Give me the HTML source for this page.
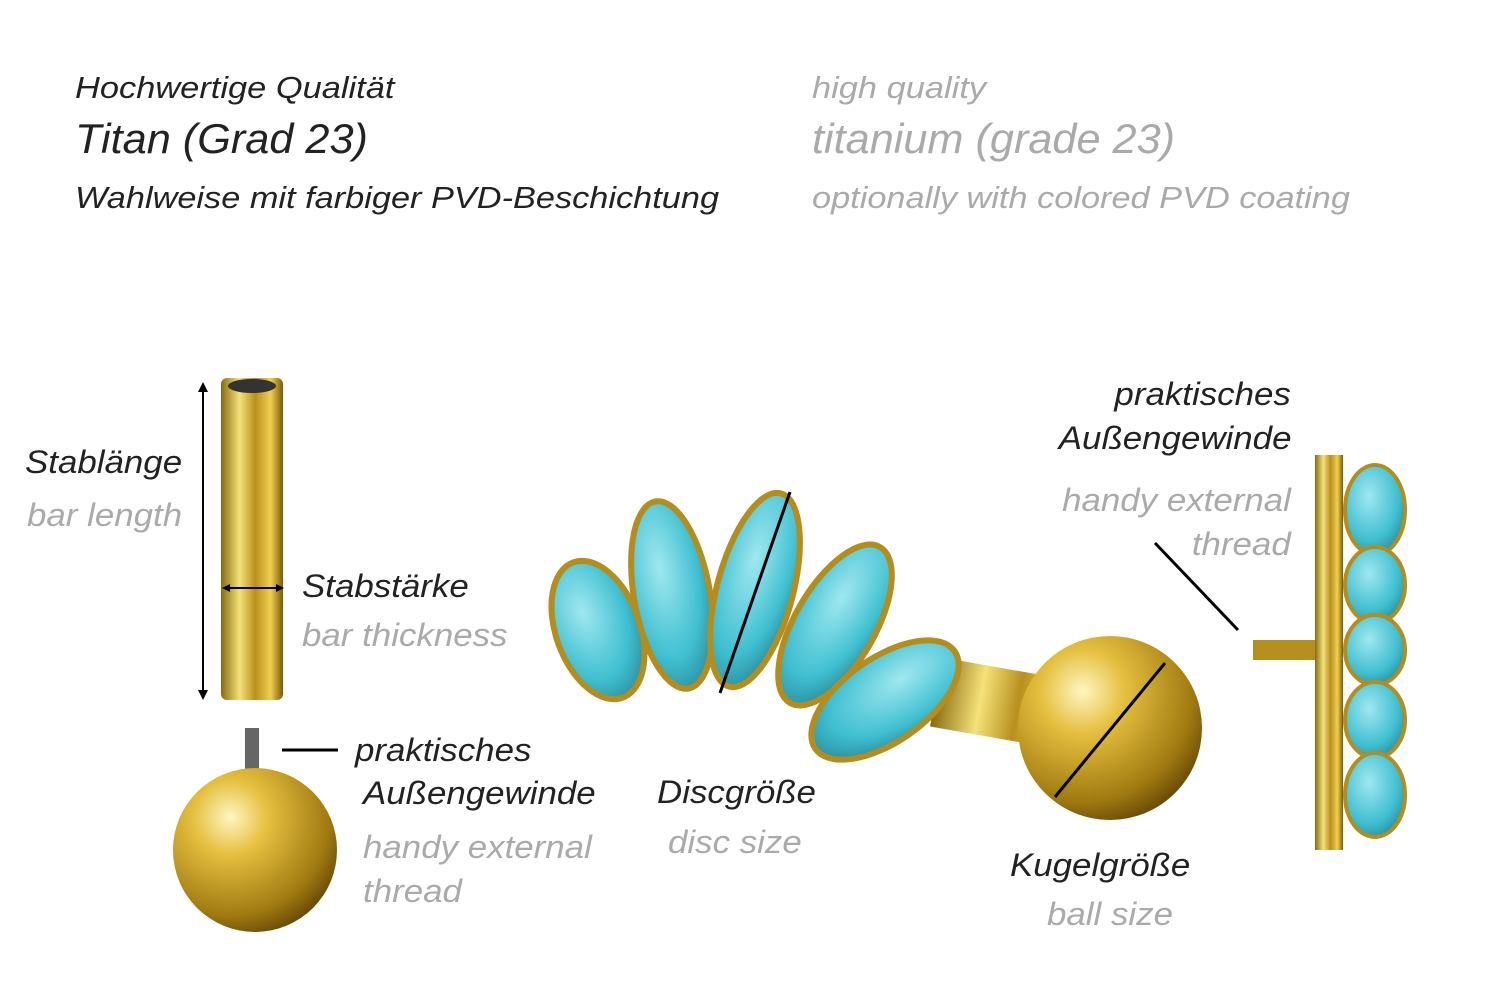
<!DOCTYPE html>
<html><head><meta charset="utf-8"><style>
body{margin:0;width:1500px;height:1001px;background:#fff;position:relative;overflow:hidden;font-family:"Liberation Sans",sans-serif;font-style:italic}
.t{position:absolute;white-space:nowrap;line-height:1;transform:scaleX(1.09);transform-origin:left top}
.r{transform-origin:right top}
.d{color:#222}.g{color:#aaa}
</style></head><body>
<div class="t d" style="left:75px;top:72px;font-size:31px;transform:scaleX(1.11)">Hochwertige Qualität</div>
<div class="t d" style="left:75px;top:118px;font-size:42px;transform:scaleX(1.03)">Titan (Grad 23)</div>
<div class="t d" style="left:75px;top:182px;font-size:31px;transform:scaleX(1.107)">Wahlweise mit farbiger PVD-Beschichtung</div>
<div class="t g" style="left:812px;top:72px;font-size:31px;transform:scaleX(1.11)">high quality</div>
<div class="t g" style="left:812px;top:118px;font-size:42px;transform:scaleX(1.03)">titanium (grade 23)</div>
<div class="t g" style="left:812px;top:182px;font-size:31px;transform:scaleX(1.107)">optionally with colored PVD coating</div>

<div class="t d" style="left:25px;top:446px;font-size:32px">Stablänge</div>
<div class="t g" style="left:27px;top:499px;font-size:32px">bar length</div>
<div class="t d" style="left:302px;top:570px;font-size:32px">Stabstärke</div>
<div class="t g" style="left:302px;top:619px;font-size:32px">bar thickness</div>
<div class="t d" style="left:355px;top:734px;font-size:32px">praktisches</div>
<div class="t d" style="left:363px;top:777px;font-size:32px">Außengewinde</div>
<div class="t g" style="left:363px;top:831px;font-size:32px">handy external</div>
<div class="t g" style="left:363px;top:875px;font-size:32px">thread</div>
<div class="t d" style="left:657px;top:776px;font-size:32px">Discgröße</div>
<div class="t g" style="left:668px;top:826px;font-size:32px">disc size</div>
<div class="t d" style="left:1010px;top:849px;font-size:32px">Kugelgröße</div>
<div class="t g" style="left:1047px;top:898px;font-size:32px">ball size</div>
<div class="t r d" style="right:209px;top:378px;font-size:32px">praktisches</div>
<div class="t r d" style="right:209px;top:422px;font-size:32px">Außengewinde</div>
<div class="t r g" style="right:209px;top:484px;font-size:32px">handy external</div>
<div class="t r g" style="right:209px;top:528px;font-size:32px">thread</div>

<svg width="1500" height="1001" style="position:absolute;left:0;top:0">
<defs>
<linearGradient id="gb" x1="0" x2="1"><stop offset="0" stop-color="#8a6a10"/><stop offset=".3" stop-color="#f5e27a"/><stop offset=".55" stop-color="#b8901e"/><stop offset=".8" stop-color="#f0d050"/><stop offset="1" stop-color="#7a5a08"/></linearGradient>
<radialGradient id="gr" cx=".35" cy=".3" r=".75"><stop offset="0" stop-color="#fff6c0"/><stop offset=".3" stop-color="#e6c040"/><stop offset=".8" stop-color="#a07a10"/><stop offset="1" stop-color="#6a4a05"/></radialGradient>
<radialGradient id="tq" cx=".4" cy=".35" r=".7"><stop offset="0" stop-color="#9fe8f0"/><stop offset=".7" stop-color="#3fbfd0"/><stop offset="1" stop-color="#2a8fa0"/></radialGradient>
</defs>
<rect x="221" y="378" width="62" height="322" rx="6" fill="url(#gb)"/>
<ellipse cx="252" cy="386" rx="24" ry="7" fill="#333"/>
<line x1="203" y1="384" x2="203" y2="697" stroke="#000" stroke-width="2"/>
<path d="M198 392 L203 382 L208 392Z M198 690 L203 700 L208 690Z"/>
<line x1="224" y1="588" x2="282" y2="588" stroke="#000" stroke-width="2"/>
<path d="M230 592 L222 588 L230 584Z M276 592 L284 588 L276 584Z"/>
<rect x="245" y="728" width="14" height="50" fill="#666"/>
<circle cx="255" cy="850" r="82" fill="url(#gr)"/>
<line x1="282" y1="750" x2="338" y2="750" stroke="#000" stroke-width="3"/>
<rect x="935" y="670" width="150" height="70" fill="url(#gb)" transform="rotate(10 1010 705)"/>
<circle cx="1110" cy="728" r="92" fill="url(#gr)"/>
<line x1="1055" y1="797" x2="1165" y2="663" stroke="#000" stroke-width="3"/>
<g stroke="#b58d1d" stroke-width="6">
<ellipse cx="598" cy="630" rx="42" ry="72" fill="url(#tq)" transform="rotate(-20 598 630)"/>
<ellipse cx="672" cy="595" rx="38" ry="95" fill="url(#tq)" transform="rotate(-10 672 595)"/>
<ellipse cx="755" cy="590" rx="38" ry="100" fill="url(#tq)" transform="rotate(15 755 590)"/>
<ellipse cx="835" cy="625" rx="40" ry="90" fill="url(#tq)" transform="rotate(30 835 625)"/>
<ellipse cx="885" cy="700" rx="42" ry="85" fill="url(#tq)" transform="rotate(55 885 700)"/>
</g>
<line x1="720" y1="693" x2="790" y2="492" stroke="#000" stroke-width="3"/>
<rect x="1253" y="640" width="70" height="20" fill="#b59020"/>
<rect x="1315" y="455" width="28" height="395" fill="url(#gb)"/>
<g fill="url(#tq)" stroke="#b58d1d" stroke-width="4">
<ellipse cx="1375" cy="510" rx="30" ry="45"/><ellipse cx="1375" cy="585" rx="30" ry="38"/><ellipse cx="1375" cy="650" rx="30" ry="35"/><ellipse cx="1375" cy="720" rx="30" ry="38"/><ellipse cx="1375" cy="795" rx="30" ry="42"/>
</g>
<line x1="1155" y1="543" x2="1238" y2="630" stroke="#000" stroke-width="3"/>
</svg>
</body></html>
